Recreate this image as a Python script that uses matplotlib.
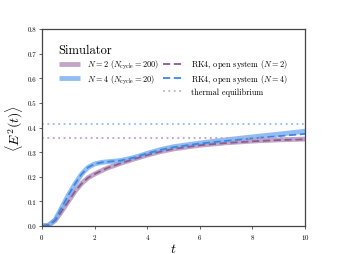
import matplotlib
matplotlib.use('Agg')
import matplotlib.pyplot as plt
from matplotlib.lines import Line2D
import numpy as np

plt.rcParams['font.family'] = 'serif'
plt.rcParams['font.serif'] = ['cmr10', 'DejaVu Serif']
plt.rcParams['mathtext.fontset'] = 'cm'
plt.rcParams['axes.formatter.use_mathtext'] = True

# values
t = [0, 0.25, 0.5, 0.75, 1.0, 1.25, 1.5, 1.75, 2.0, 2.25, 2.5, 3.0, 3.5,
	4.0, 4.5, 5.0, 6.0, 7.0, 8.0, 9.0, 10.0]
sim_n2 = [0, 0.003, 0.022, 0.060, 0.100, 0.140, 0.172, 0.196, 0.211, 0.224,
	0.236, 0.255, 0.272, 0.288, 0.302, 0.313, 0.328, 0.338, 0.345, 0.350, 0.353]
sim_n4 = [0, 0.003, 0.025, 0.075, 0.125, 0.170, 0.210, 0.238, 0.252, 0.258,
	0.261, 0.266, 0.278, 0.295, 0.310, 0.322, 0.337, 0.350, 0.362, 0.373, 0.385]
rk4_n2 = [0, 0.003, 0.022, 0.060, 0.100, 0.140, 0.172, 0.196, 0.211, 0.224,
	0.236, 0.255, 0.272, 0.288, 0.302, 0.313, 0.328, 0.337, 0.344, 0.349, 0.352]
rk4_n4 = [0, 0.003, 0.025, 0.075, 0.125, 0.170, 0.210, 0.238, 0.252, 0.258,
	0.261, 0.266, 0.278, 0.295, 0.309, 0.320, 0.335, 0.346, 0.356, 0.365, 0.374]
thermal_n2 = 0.356
thermal_n4 = 0.415

PURPLE_LIGHT = '#b597be'
BLUE_LIGHT = '#7fb2f0'
PURPLE_DARK = '#8c5c92'
BLUE_DARK = '#3f86e0'

fig = plt.figure(figsize=(3.39, 2.55), dpi=100)
ax = fig.add_axes([0.124, 0.11, 0.776, 0.772])

h1, = ax.plot(t, sim_n2, color=PURPLE_LIGHT, lw=3.5, alpha=0.85,
	solid_capstyle='butt', label=r'$N=2$ $(N_{\rm cycle}=200)$')
h2, = ax.plot(t, sim_n4, color=BLUE_LIGHT, lw=3.5, alpha=0.85,
	solid_capstyle='butt', label=r'$N=4$ $(N_{\rm cycle}=20)$')
h3, = ax.plot(t, rk4_n2, color=PURPLE_DARK, lw=1.3, ls=(0, (4, 2)),
	label=r'RK4, open system $(N=2)$')
h4, = ax.plot(t, rk4_n4, color=BLUE_DARK, lw=1.3, ls=(0, (4, 2)),
	label=r'RK4, open system $(N=4)$')
ax.axhline(thermal_n4, color='#8fbcf2', lw=1.3, ls=(0, (1, 2)))
ax.axhline(thermal_n2, color='#bf9fc6', lw=1.3, ls=(0, (1, 2)))
h5, = ax.plot([], [], color='#c6aec8', lw=1.3, ls=(0, (1, 2)),
	label='thermal equilibrium')
blank = Line2D([], [], color='none', label=' ')

ax.set_xlim(0, 10)
ax.set_ylim(0, 0.8)
ax.set_xticks([0, 2, 4, 6, 8, 10])
ax.set_yticks(np.arange(0, 0.81, 0.1))
ax.yaxis.set_major_formatter(plt.FormatStrFormatter('%.1f'))
ax.tick_params(labelsize=5, length=2, width=0.6, pad=2, color='#444444')
for s in ax.spines.values():
	s.set_color('#444444')
	s.set_linewidth(0.9)

ax.set_xlabel(r'$t$', fontsize=10, labelpad=1)
ax.set_ylabel(r'$\langle E^2(t)\rangle$', fontsize=10, labelpad=2)

leg = ax.legend(handles=[h1, h2, blank, h3, h4, h5], ncol=2, frameon=False,
	fontsize=6, title='Simulator', title_fontsize=9,
	loc='upper left', bbox_to_anchor=(0.035, 0.965),
	handlelength=2.6, columnspacing=0.4, handletextpad=0.8,
	labelspacing=0.22)
leg._legend_box.align = 'left'

fig.savefig('out.png', dpi=100)
